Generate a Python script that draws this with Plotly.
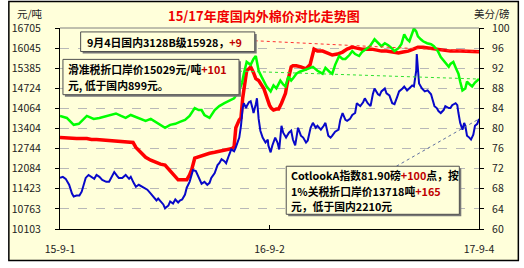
import plotly.graph_objects as go
import pandas as pd

START = "2015-09-01"
END = "2017-09-04"

# Domestic 3128B price (yuan/ton) - left axis
red_days = [0, 12, 29, 47, 55, 64, 81, 98, 115, 128, 133, 141, 150, 159, 167, 176, 184, 190, 195, 202,
            207, 215, 222, 227, 231, 236, 245, 253, 262, 271, 279, 293, 302, 305, 308, 314, 317, 320, 324, 327,
            331, 334, 339, 343, 348, 351, 357, 360, 364, 367, 370, 374, 379, 383, 388, 391, 395, 398, 401, 405,
            408, 414, 422, 431, 438, 441, 445, 451, 460, 469, 477, 486, 495, 503, 512, 520, 529, 538, 546, 555,
            563, 572, 581, 593, 601, 610, 619, 627, 636, 650, 662, 672, 684, 701, 718, 734]
red_vals = [13106, 13090, 13074, 13074, 13041, 13041, 13009, 12977, 12961, 12944, 12783, 12622, 12460, 12363, 12299, 12234, 12202, 12073, 11944, 11782,
            11718, 11718, 11718, 11879, 12073, 12428, 12492, 12525, 12589, 12622, 12654, 12686, 12751, 12815, 13429, 13687, 13751, 14397, 14881, 15301,
            15365, 15430, 15236, 15043, 14978, 14881, 14720, 14559, 14300, 14171, 14074, 14010, 14042, 14042, 14236, 14397, 14559, 14881, 15107, 15430,
            15462, 15462, 15430, 15365, 15495, 15753, 16011, 15946, 15946, 15882, 15817, 15850, 15914, 16011, 16076, 16043, 16011, 16011, 16011, 15979,
            15946, 15946, 15914, 15882, 15914, 15946, 16011, 16076, 16076, 16043, 16011, 15979, 15946, 15946, 15946, 15928]

# Sliding-tariff import price (yuan/ton) - left axis
green_days = [0, 12, 24, 33, 47, 59, 69, 81, 98, 107, 115, 124, 133, 141, 150, 159, 167, 176, 184, 193,
              202, 210, 219, 227, 236, 243, 248, 253, 262, 271, 279, 288, 296, 305, 314, 319, 322, 327, 334, 339,
              343, 348, 353, 357, 362, 369, 374, 379, 386, 391, 395, 400, 405, 408, 414, 420, 426, 434, 443, 451,
              460, 465, 472, 477, 482, 489, 495, 500, 507, 512, 517, 524, 529, 534, 543, 551, 558, 563, 569, 575,
              581, 586, 593, 598, 603, 608, 612, 617, 620, 624, 627, 632, 636, 643, 650, 655, 662, 667, 672, 677,
              681, 684, 689, 694, 698, 701, 705, 710, 713, 718, 722, 727, 731, 734]
green_vals = [13816, 13751, 13525, 13558, 13816, 13719, 13751, 13816, 13897, 13816, 13751, 13848, 13784, 13719, 13655, 13719, 13622, 13525, 13429, 13525,
              13558, 13622, 13687, 13816, 14074, 14010, 14010, 13848, 13751, 14010, 14139, 14236, 14300, 14397, 14655, 14913, 15204, 15591, 15495, 15688,
              15785, 15301, 15107, 14978, 14785, 14623, 14817, 14720, 14978, 14849, 14785, 15107, 14978, 15043, 15204, 15269, 15301, 15365, 15430, 15301,
              15204, 15398, 15269, 15204, 15495, 15785, 15688, 15688, 15817, 15946, 15850, 15785, 15914, 15979, 16108, 16334, 16205, 16108, 16205, 16140,
              16043, 15946, 16043, 16172, 16495, 16334, 16269, 16560, 16690, 16592, 16431, 16334, 16269, 16205, 16172, 16108, 15946, 15753, 15624, 15495,
              15430, 15527, 15591, 15365, 15204, 14946, 14655, 14720, 14946, 14849, 14785, 14913, 14978, 15029]

# Cotlook A index (US cents/lb) - right axis
blue_days = [0, 5, 10, 16, 21, 24, 29, 34, 38, 41, 45, 50, 55, 60, 64, 69, 74, 81, 86, 91,
             95, 100, 103, 109, 115, 121, 124, 129, 133, 138, 145, 150, 153, 159, 164, 169, 172, 177, 181, 184,
             190, 193, 198, 202, 207, 210, 214, 219, 222, 227, 231, 233, 238, 241, 245, 248, 253, 258, 262, 265,
             271, 276, 279, 283, 288, 291, 296, 300, 305, 308, 314, 317, 320, 322, 326, 327, 331, 334, 338, 339,
             343, 345, 348, 351, 355, 360, 364, 365, 369, 372, 377, 381, 384, 388, 391, 396, 401, 405, 408, 412,
             417, 422, 426, 431, 434, 439, 443, 448, 451, 457, 462, 465, 470, 474, 477, 482, 488, 491, 495, 500,
             503, 508, 512, 517, 520, 526, 531, 534, 539, 544, 548, 551, 557, 560, 563, 569, 572, 577, 582, 586,
             591, 594, 600, 603, 608, 612, 617, 620, 624, 625, 627, 629, 634, 639, 644, 650, 653, 656, 660, 663,
             667, 672, 675, 681, 684, 687, 693, 696, 698, 701, 705, 708, 710, 713, 717, 720, 724, 727, 731, 734]
blue_vals = [70.17, 70.37, 69.98, 68.80, 67.04, 66.46, 66.65, 66.65, 67.43, 68.80, 70.17, 70.76, 70.37, 69.98, 70.76, 70.37, 69.78, 69.39, 69.39, 70.37,
             71.34, 70.56, 70.17, 70.17, 70.76, 69.98, 70.37, 69.19, 68.41, 68.80, 68.41, 68.02, 67.82, 67.04, 66.26, 65.67, 66.06, 65.48, 64.89, 64.11,
             64.69, 65.48, 65.08, 65.87, 65.28, 65.67, 65.87, 66.85, 68.22, 69.39, 70.76, 71.73, 71.54, 70.76, 69.98, 69.00, 69.39, 68.80, 69.19, 70.17,
             71.15, 72.71, 73.10, 73.89, 73.50, 73.10, 74.67, 75.84, 75.45, 76.23, 78.19, 80.54, 84.06, 85.04, 84.06, 84.45, 85.23, 85.43, 83.67, 83.08,
             84.84, 86.01, 81.91, 79.56, 78.19, 77.21, 77.80, 76.63, 75.26, 76.63, 78.19, 77.21, 75.84, 80.54, 79.17, 78.19, 79.17, 79.56, 77.80, 76.63,
             80.15, 78.58, 78.19, 77.21, 77.60, 80.15, 81.12, 80.15, 80.54, 79.76, 80.54, 81.12, 78.58, 78.19, 78.58, 79.37, 79.76, 81.71, 83.08, 81.71,
             81.52, 81.91, 82.69, 83.08, 85.04, 84.45, 85.23, 86.01, 85.04, 84.45, 86.80, 87.97, 86.80, 86.60, 87.38, 87.97, 86.99, 86.60, 85.04, 84.84,
             86.41, 87.38, 87.97, 88.36, 87.58, 87.97, 88.56, 88.36, 91.49, 94.82, 91.88, 88.95, 87.97, 87.38, 87.58, 86.80, 85.62, 84.45, 84.06, 83.47,
             83.08, 83.67, 84.45, 84.06, 84.06, 84.65, 85.04, 84.65, 83.08, 81.12, 79.76, 81.12, 80.54, 78.58, 78.19, 77.80, 78.77, 80.54, 80.93, 81.90]

left_ticks = [16705, 16045, 15385, 14724, 14064, 13404, 12744, 12084, 11423, 10763, 10103]
right_ticks = [100, 96, 92, 88, 84, 80, 76, 72, 68, 64, 60]
x_tick_dates = ["2015-09-01", "2016-09-02", "2017-09-04"]
x_tick_labels = ["15-9-1", "16-9-2", "17-9-4"]

title_text = "15/17年度国内外棉价对比走势图"
left_unit = "元/吨"
right_unit = "美分/磅"
RED_SPAN = "<span style='color:#C00000'>{}</span>"
note1_lines = ["9月4日国内3128B级15928，" + RED_SPAN.format("+9")]
note2_lines = ["滑准税折口岸价15029元/吨" + RED_SPAN.format("+101"), "元, 低于国内899元。"]
note3_lines = ["CotlookA指数81.90磅" + RED_SPAN.format("+100") + "点，按",
               "1%关税折口岸价13718吨" + RED_SPAN.format("+165"),
               "元，低于国内2210元"]

start = pd.Timestamp(START)
def to_dates(days):
    return [start + pd.Timedelta(days=int(d)) for d in days]

BG = "#FFFFDA"
W, H = 524, 268
ML, MR, MT, MB = 53, 45, 28, 35
PW, PH = W - ML - MR, H - MT - MB
YL = (10103, 16705)
YR = (60, 100)

def px_x(px):  # pixel -> paper x
    return (px - ML) / PW
def px_y(py):  # pixel -> paper y
    return (H - MB - py) / PH
def paper_to_date(fx):
    t0, t1 = pd.Timestamp(START), pd.Timestamp(END)
    return t0 + (t1 - t0) * fx
def paper_to_val(fy, rng):
    return rng[0] + (rng[1] - rng[0]) * fy

fig = go.Figure()
fig.add_trace(go.Scatter(x=to_dates(red_days), y=red_vals, mode="lines",
                         line=dict(color="#FF0000", width=3.5), yaxis="y", showlegend=False))
fig.add_trace(go.Scatter(x=to_dates(green_days), y=green_vals, mode="lines",
                         line=dict(color="#00FF00", width=2.5), yaxis="y", showlegend=False))
fig.add_trace(go.Scatter(x=to_dates(blue_days), y=blue_vals, mode="lines",
                         line=dict(color="#0808C8", width=2), yaxis="y2", showlegend=False))

shapes = []
# outer frame
shapes.append(dict(type="rect", xref="paper", yref="paper",
                   x0=px_x(1), x1=px_x(519), y0=px_y(265), y1=px_y(1),
                   fillcolor=BG, line=dict(color="black", width=1.5), layer="below"))
# top border of plot area (gray)
shapes.append(dict(type="line", xref="paper", yref="paper", x0=0, x1=1, y0=1, y1=1,
                   line=dict(color="#808080", width=1)))

# connector lines from notes to end points
shapes.append(dict(type="line", xref="x", yref="y",
                   x0=paper_to_date(px_x(251)), y0=paper_to_val(px_y(41), YL),
                   x1=to_dates([red_days[-1]])[0], y1=red_vals[-1], line=dict(color="#FF3030", width=1, dash="dot")))
shapes.append(dict(type="line", xref="x", yref="y",
                   x0=paper_to_date(px_x(235)), y0=paper_to_val(px_y(72), YL),
                   x1=to_dates([green_days[-1]])[0], y1=green_vals[-1], line=dict(color="#30E030", width=1, dash="dot")))
shapes.append(dict(type="line", xref="x", yref="y2",
                   x0=paper_to_date(px_x(395)), y0=paper_to_val(px_y(169), YR),
                   x1=to_dates([blue_days[-1]])[0], y1=blue_vals[-1], line=dict(color="#6070A0", width=1, dash="dot")))

# note boxes: (lines, box x, box y, box w, box h, text x, first line centre y, line step)
notes = [(note1_lines, 74, 32, 177, 20, 78, 42, 16),
         (note2_lines, 56, 60, 179, 36, 59, 70, 16),
         (note3_lines, 283, 169, 176, 49, 286, 178, 16)]
annotations = []
for lines, bx, by, bw, bh, tx, ty, step in notes:
    shapes.append(dict(type="rect", xref="paper", yref="paper",
                       x0=px_x(bx + 2), x1=px_x(bx + bw + 2), y0=px_y(by + bh + 2), y1=px_y(by + 2),
                       fillcolor="#777777", line=dict(width=0), layer="above"))
    shapes.append(dict(type="rect", xref="paper", yref="paper",
                       x0=px_x(bx), x1=px_x(bx + bw), y0=px_y(by + bh), y1=px_y(by),
                       fillcolor=BG, line=dict(color="#505050", width=1), layer="above"))
    for i, line in enumerate(lines):
        annotations.append(dict(text=line, xref="paper", yref="paper", x=px_x(tx), y=px_y(ty + i * step),
                                xanchor="left", yanchor="middle", align="left", showarrow=False,
                                font=dict(family="Noto Sans CJK SC", size=10.8, color="#000000", weight="bold")))

annotations.append(dict(text=title_text, xref="paper", yref="paper", x=px_x(260), y=px_y(15),
                        xanchor="center", yanchor="middle", showarrow=False,
                        font=dict(family="Noto Sans CJK SC", size=13, color="#F00000", weight="bold")))
annotations.append(dict(text=left_unit, xref="paper", yref="paper", x=px_x(7), y=px_y(13),
                        xanchor="left", yanchor="middle", showarrow=False,
                        font=dict(family="Noto Sans CJK SC", size=10.5, color="#222222")))
annotations.append(dict(text=right_unit, xref="paper", yref="paper", x=px_x(472), y=px_y(13),
                        xanchor="left", yanchor="middle", showarrow=False,
                        font=dict(family="Noto Sans CJK SC", size=10.5, color="#222222")))

tickfont = dict(family="Noto Sans CJK SC", size=10.5, color="#222222")
fig.update_layout(
    width=W, height=H, margin=dict(l=ML, r=MR, t=MT, b=MB, pad=0),
    paper_bgcolor="white", plot_bgcolor=BG,
    shapes=shapes, annotations=annotations, showlegend=False,
    xaxis=dict(type="date", range=[START, END], tickvals=x_tick_dates, ticktext=x_tick_labels,
               ticks="inside", ticklen=4, tickcolor="black", showline=True, linecolor="black",
               linewidth=1, showgrid=False, zeroline=False, tickfont=tickfont, ticklabelstandoff=10),
    yaxis=dict(range=list(YL), tickvals=left_ticks, ticktext=[str(v) for v in left_ticks],
               ticks="outside", ticklen=4, tickcolor="black", showline=True, linecolor="black",
               linewidth=1, showgrid=True, gridcolor="#B8B8B8", griddash="dash", gridwidth=1,
               zeroline=False, tickfont=tickfont, ticklabelstandoff=12),
    yaxis2=dict(range=list(YR), tickvals=right_ticks, ticktext=[str(v) for v in right_ticks],
                overlaying="y", side="right", ticks="outside", ticklen=4, tickcolor="black",
                showline=True, linecolor="black", linewidth=1, showgrid=False, zeroline=False,
                tickfont=tickfont, ticklabelstandoff=6),
)

fig.write_html("out.html")
